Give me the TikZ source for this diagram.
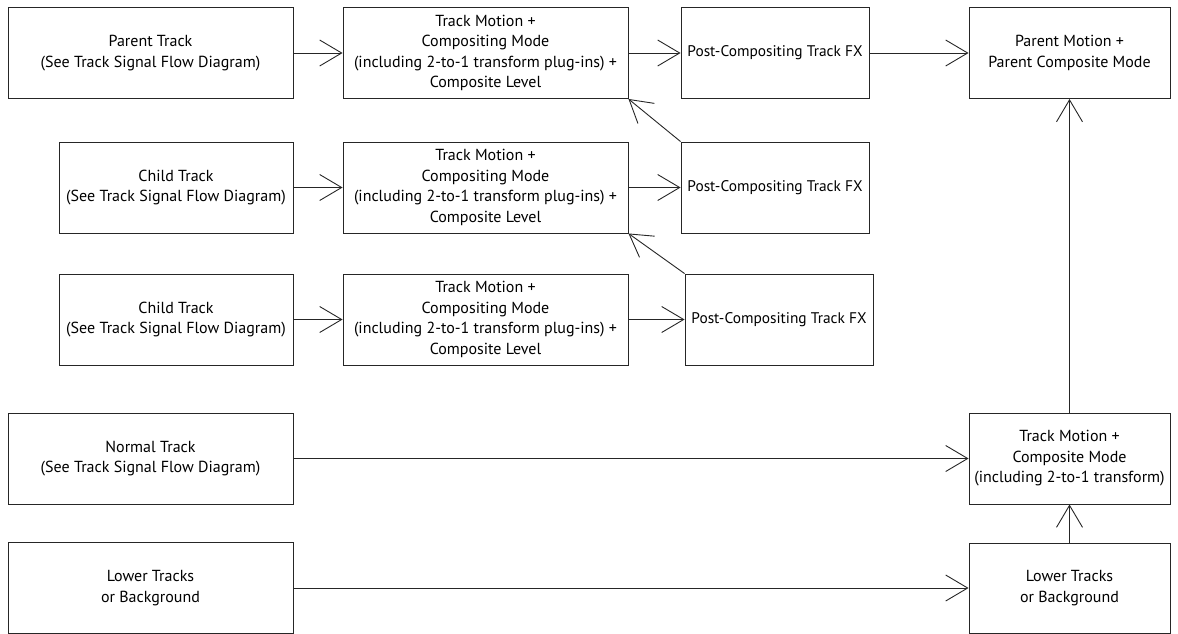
\documentclass[tikz,border=0pt]{standalone}
\usepackage{fontspec}
\setmainfont{PT Sans}
\usetikzlibrary{arrows.meta,positioning}

\begin{document}
\begin{tikzpicture}[
  x=1pt,y=-1pt,
  box/.style={draw=black!85,line width=0.9pt,align=center,inner sep=0pt,
    font=\fontsize{16}{20.5}\selectfont},
  wide/.style={box,minimum width=285pt,minimum height=91pt},
  small/.style={box,minimum width=188pt,minimum height=91pt,
    font=\fontsize{15.4}{20.5}\selectfont},
  side/.style={box,minimum width=201pt,minimum height=91pt},
  arrow/.style={-{Straight Barb[length=22pt,width=26pt]},line width=0.9pt,black!85}
]
\useasboundingbox (0,0) rectangle (1178,633);
% top row
\node[wide] (parent) at (150.5,53) {Parent Track\\(See Track Signal Flow Diagram)};
\node[wide] (mida) at (485.5,53) {Track Motion +\\Compositing Mode\\(including 2-to-1 transform plug-ins) +\\Composite Level};
\node[small] (fxa) at (775,53) {Post-Compositing Track FX};
\node[side] (pmotion) at (1069.5,53) {Parent Motion +\\Parent Composite Mode};
% child tracks
\node[wide,minimum width=234pt] (childa) at (176,187.5) {Child Track\\(See Track Signal Flow Diagram)};
\node[wide] (midb) at (485.5,187.5) {Track Motion +\\Compositing Mode\\(including 2-to-1 transform plug-ins) +\\Composite Level};
\node[small] (fxb) at (775,187.5) {Post-Compositing Track FX};
\node[wide,minimum width=234pt] (childb) at (176,319.5) {Child Track\\(See Track Signal Flow Diagram)};
\node[wide] (midc) at (485.5,319.5) {Track Motion +\\Compositing Mode\\(including 2-to-1 transform plug-ins) +\\Composite Level};
\node[small] (fxc) at (779,319.5) {Post-Compositing Track FX};
% normal and lower tracks
\node[wide] (normal) at (150.5,458.5) {Normal Track\\(See Track Signal Flow Diagram)};
\node[side] (tmotion) at (1069.5,458.5) {Track Motion +\\Composite Mode\\(including 2-to-1 transform)};
\node[wide] (lowl) at (150.5,588) {Lower Tracks\\or Background};
\node[side,minimum height=90pt] (lowr) at (1069.5,588) {Lower Tracks\\or Background};

\draw[arrow] (parent) -- (mida);
\draw[arrow] (mida) -- (fxa);
\draw[arrow] (fxa) -- (pmotion);
\draw[arrow] (childa) -- (midb);
\draw[arrow] (midb) -- (fxb);
\draw[arrow] (childb) -- (midc);
\draw[arrow] (midc) -- (fxc);
\draw[arrow] (fxb.north west) -- (mida.south east);
\draw[arrow] (fxc.north west) -- (midb.south east);
\draw[arrow] (normal) -- (tmotion);
\draw[arrow] (lowl) -- (lowr);
\draw[arrow] (lowr) -- (tmotion);
\draw[arrow] (tmotion) -- (pmotion);
\end{tikzpicture}
\end{document}
